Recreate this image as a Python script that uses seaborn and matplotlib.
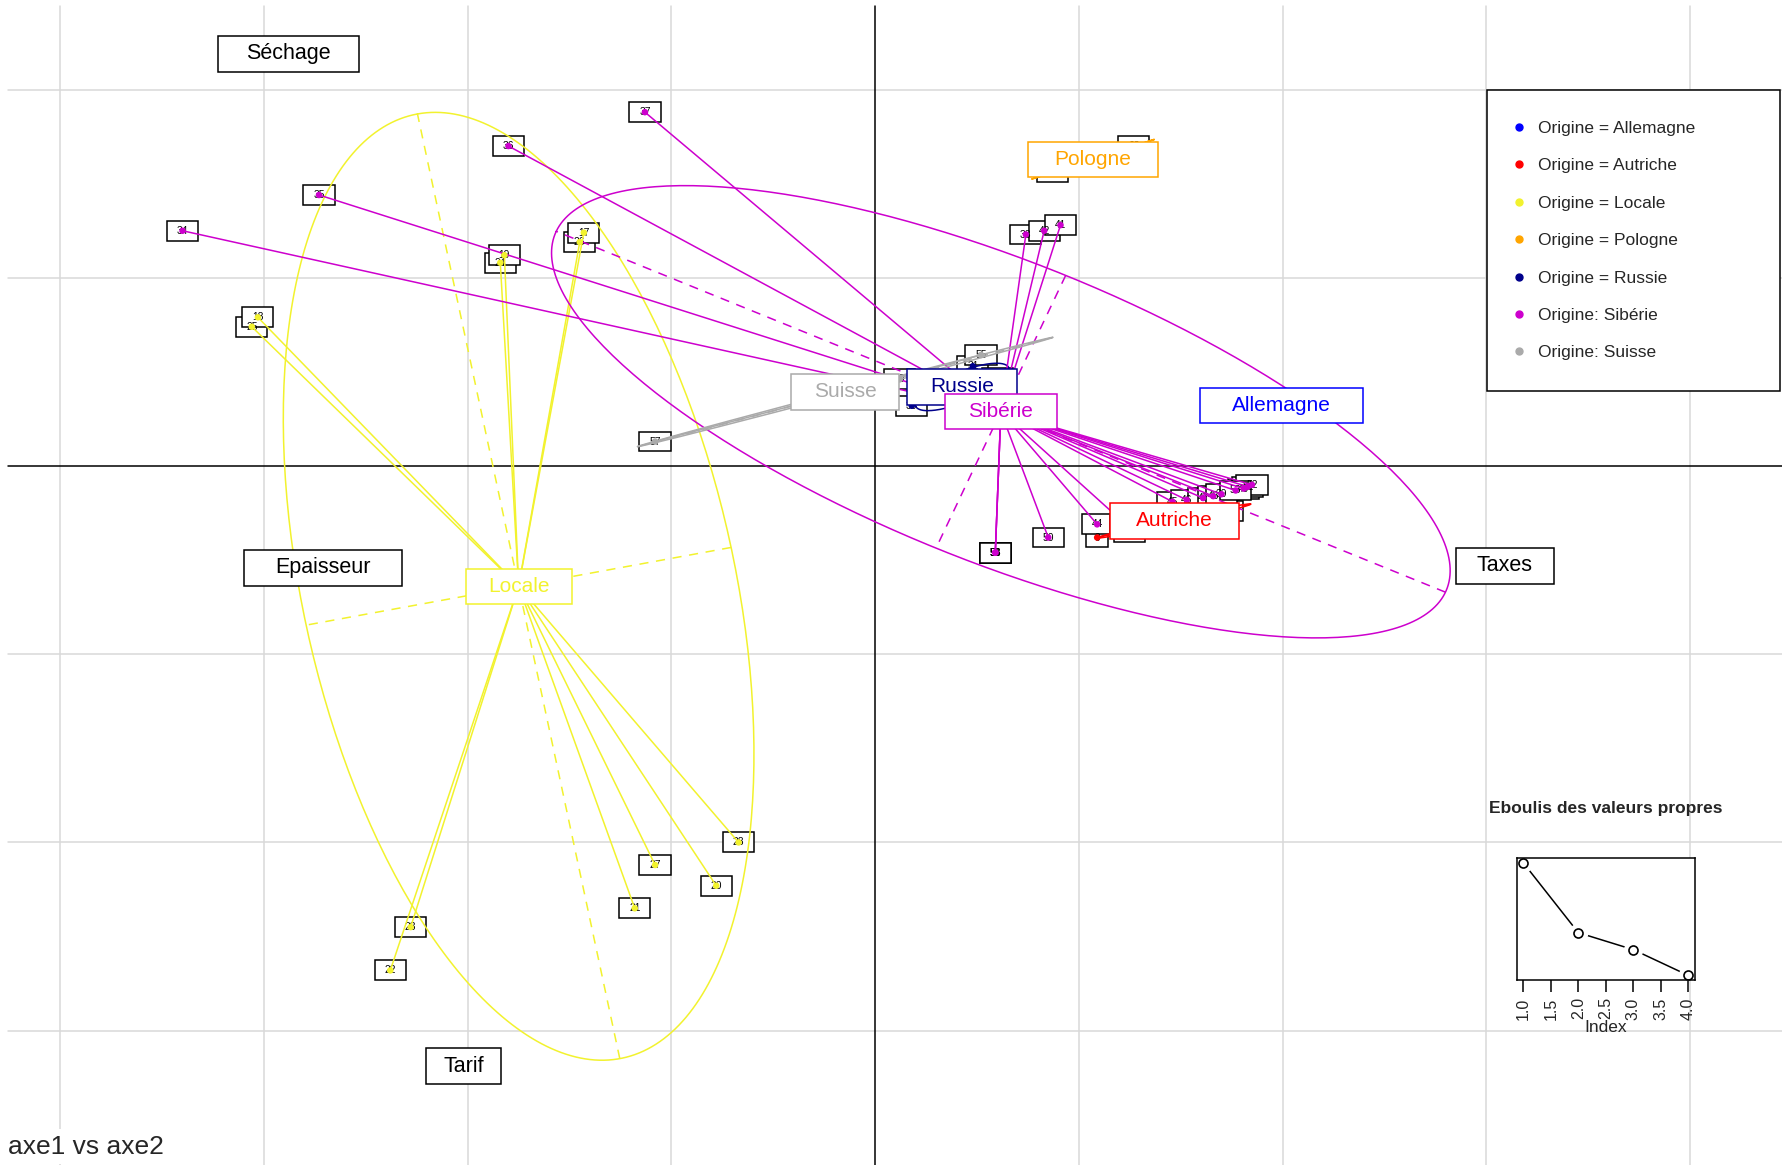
import numpy as np
import pandas as pd
import seaborn as sns
import matplotlib.pyplot as plt
from matplotlib.lines import Line2D
from matplotlib.patches import Rectangle

# ==========================================
# 1. DONNEES (coordonnees lues sur le plan axe1 x axe2)
# ==========================================
groupes = ["Allemagne", "Autriche", "Locale", "Pologne", "Russie", "Sibérie", "Suisse"]
couleurs = ["#0000FF", "#FF0000", "#F2F22E", "#FFA500", "#00008B", "#CD00CD", "#AAAAAA"]
legende = ["Origine = Allemagne", "Origine = Autriche", "Origine = Locale", "Origine = Pologne",
           "Origine = Russie", "Origine: Sibérie", "Origine: Suisse"]

numeros = ["1", "2",
           "9", "10", "11", "12", "13",
           "22", "23", "24", "19", "25", "18", "26", "17", "21", "27", "20", "28",
           "61", "62",
           "30", "31", "32", "33",
           "37", "36", "35", "34", "38", "42", "41", "54", "50", "44",
           "45", "46", "47", "48", "39", "49", "51", "52", "53", "43", "56", "58",
           "57", "55", "60"]
origine = (["Allemagne"] * 2 + ["Autriche"] * 5 + ["Locale"] * 12 + ["Pologne"] * 2
           + ["Russie"] * 4 + ["Sibérie"] * 22 + ["Suisse"] * 3)
axe1 = [1.87, 2.12,
        1.09, 1.25, 1.62, 1.73, 1.65,
        -2.38, -2.28, -1.84, -1.82, -3.06, -3.03, -1.45, -1.43, -1.18, -1.08, -0.78, -0.67,
        0.87, 1.27,
        0.18, 0.48, 0.60, 0.45,
        -1.13, -1.80, -2.73, -3.40, 0.74, 0.83, 0.91, 0.59, 0.85, 1.09,
        1.46, 1.53, 1.61, 1.66, 1.70, 1.81, 1.83, 1.85, 1.77, 1.23, 0.59, 0.59,
        -1.08, 0.52, 0.12]
axe2 = [0.30, 0.34,
        -0.38, -0.35, -0.24, -0.24, -0.25,
        -2.68, -2.45, 1.08, 1.12, 0.74, 0.79, 1.19, 1.24, -2.35, -2.12, -2.23, -2.00,
        1.56, 1.70,
        0.32, 0.53, 0.47, 0.36,
        1.88, 1.70, 1.44, 1.25, 1.23, 1.25, 1.28, -0.46, -0.38, -0.31,
        -0.19, -0.18, -0.17, -0.16, -0.15, -0.12, -0.11, -0.10, -0.13, -0.31, -0.46, -0.46,
        0.13, 0.59, 0.46]

variables = ["Séchage", "Epaisseur", "Tarif", "Taxes"]
var_axe1 = [-2.88, -2.71, -2.02, 3.09]
var_axe2 = [2.19, -0.54, -3.19, -0.53]

valeurs_propres = [2.07, 0.96, 0.69, 0.28]

df = pd.DataFrame({"num": numeros, "origine": origine, "axe1": axe1, "axe2": axe2})
centres = df.groupby("origine")[["axe1", "axe2"]].mean()
palette = dict(zip(groupes, couleurs))

# ==========================================
# 2. FIGURE
# ==========================================
sns.set_theme(style="white")
plt.rcParams["font.family"] = ["Liberation Sans", "DejaVu Sans"]

fig = plt.figure(figsize=(17.82, 11.65), dpi=100)
ax = fig.add_axes([0, 0, 1, 1])
ax.set_xlim(-4.296, 4.452)
ax.set_ylim(-3.714, 2.476)
ax.set_axis_off()

# grille + axes
for i in range(-4, 5):
    if i != 0:
        ax.axvline(i, ymax=0.995, color="#D9D9D9", lw=1.1, zorder=0)
for j in range(-3, 3):
    if j != 0:
        ax.axhline(j, xmin=0.0045, color="#D9D9D9", lw=1.1, zorder=0)
ax.axvline(0, ymax=0.995, color="black", lw=1.1, zorder=0.5)
ax.axhline(0, xmin=0.0045, color="black", lw=1.1, zorder=0.5)

fig.canvas.draw()
rend = fig.canvas.get_renderer()
p0 = ax.transData.transform((0, 0))
p1 = ax.transData.transform((1, 1))
sx, sy = p1 - p0


def etiquette(x, y, txt, couleur, taille, bord, z):
    t = ax.text(x, y, txt, color=couleur, fontsize=taille, ha="center", va="center", zorder=z + 0.1)
    w = 1.5 * t.get_window_extent(renderer=rend).width + 14
    h = 1.45 * taille * 100 / 72 + 5
    ax.add_patch(Rectangle((x - w / 2 / sx, y - h / 2 / sy), w / sx, h / sy,
                           facecolor="white", edgecolor=bord, lw=1.1, zorder=z))


# etiquettes des individus
for _, r in df.iterrows():
    etiquette(r.axe1, r.axe2, r.num, "black", 7.4, "black", 2)

# ellipses, axes des ellipses et etoiles
tt = np.linspace(0, 2 * np.pi, 300)
for g in groupes:
    sous = df[df.origine == g]
    xy = sous[["axe1", "axe2"]].to_numpy()
    c = xy.mean(axis=0)
    col = palette[g]
    if len(xy) > 1:
        vp, vec = np.linalg.eigh(np.cov(xy.T, bias=True))
        vp = np.clip(vp, 0, None)
        a = 1.5 * np.sqrt(vp[1]) * vec[:, 1]
        b = 1.5 * np.sqrt(vp[0]) * vec[:, 0]
        pts = c + np.outer(np.cos(tt), a) + np.outer(np.sin(tt), b)
        ax.plot(pts[:, 0], pts[:, 1], color=col, lw=1.1, zorder=3)
        for v in (a, b):
            ax.plot([c[0] - v[0], c[0] + v[0]], [c[1] - v[1], c[1] + v[1]],
                    color=col, lw=1.1, ls=(0, (6, 5)), zorder=3)
    for x, y in xy:
        ax.plot([c[0], x], [c[1], y], color=col, lw=1.1, zorder=3)

sns.scatterplot(data=df, x="axe1", y="axe2", hue="origine", palette=palette,
                s=22, linewidth=0, legend=False, ax=ax, zorder=4)
ax.set_xlabel("")
ax.set_ylabel("")

# etiquettes des groupes (centres de gravite)
for g in groupes:
    etiquette(centres.loc[g, "axe1"], centres.loc[g, "axe2"], g, palette[g], 15, palette[g], 5)

# etiquettes des variables
for v, x, y in zip(variables, var_axe1, var_axe2):
    etiquette(x, y, v, "black", 15.5, "black", 5)

# legende
poignees = [Line2D([], [], marker="o", ls="", color=c, markersize=5) for c in couleurs]
ax.legend(poignees, legende, loc="upper left", bbox_to_anchor=(0.8346, 0.6646, 0.1643, 0.2581),
          bbox_transform=fig.transFigure, mode="expand", borderaxespad=0, fontsize=12.5,
          frameon=True, fancybox=False, framealpha=1, edgecolor="black", borderpad=1.78,
          labelspacing=1.28, handlelength=0.1, handletextpad=1.07)
ax.get_legend().get_frame().set_linewidth(1.1)
ax.get_legend().set_zorder(6)

fig.text(0.0045, 0.0155, "axe1 vs axe2", fontsize=19, ha="left", va="center",
         bbox=dict(facecolor="white", edgecolor="none", pad=4))

# ==========================================
# 3. EBOULIS DES VALEURS PROPRES
# ==========================================
ax2 = fig.add_axes([0.8511, 0.1588, 0.1001, 0.1045])
rang = [1, 2, 3, 4]
sns.lineplot(x=rang, y=valeurs_propres, ax=ax2, color="black", lw=1.1)
ax2.plot(rang, valeurs_propres, "o", color="white", markersize=13)
ax2.plot(rang, valeurs_propres, "o", mfc="white", mec="black", mew=1.2, markersize=6.5)
ax2.set_xlim(0.88, 4.12)
ax2.set_ylim(min(valeurs_propres) - 0.04 * 1.79, max(valeurs_propres) + 0.04 * 1.79)
ax2.set_xticks(np.arange(1, 4.01, 0.5))
ax2.set_xticklabels([f"{v:.1f}" for v in np.arange(1, 4.01, 0.5)], rotation=90, fontsize=11.5)
ax2.set_yticks([])
ax2.tick_params(axis="x", bottom=True, length=8.5, width=1.1, direction="out", pad=4, color="black")
for s in ax2.spines.values():
    s.set_visible(True)
    s.set_color("black")
    s.set_linewidth(1.1)
ax2.set_xlabel("Index", fontsize=12.5)
ax2.xaxis.set_label_coords(0.5, -0.33)
ax2.set_facecolor("white")
fig.text(0.9012, 0.3056, "Eboulis des valeurs propres", fontsize=12.5, fontweight="bold",
         ha="center", va="center")

plt.savefig("out.png", dpi=100)
